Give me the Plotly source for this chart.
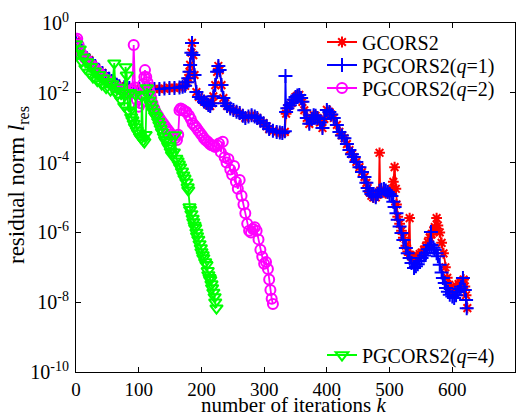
import plotly.graph_objects as go

# ---------------- data (iteration k, log10 of residual norm) ----------------
pg1_k = [0,2,5,9,13,17,21,26,32,37,42,47,53,57,61,65,69,77,85,93,101,109,117,125,133,141,149,157,165,170,174,177,179,181,182,184,185,187,189,192,196,200,204,208,211,214,217,219,222,225,227,229,232,235,238,241,246,251,256,261,266,270,275,280,285,289,294,299,304,308,314,320,325,329,333,334,335,337,341,344,347,350,353,356,359,361,364,368,372,376,379,382,385,389,393,396,400,404,407,411,416,420,424,428,432,436,440,443,447,452,456,460,463,465,468,471,474,478,481,484,487,491,494,497,500,503,506,508,511,513,516,519,522,526,529,532,535,539,542,545,548,551,555,558,561,564,566,567,570,572,575,577,580,583,585,588,590,593,596,600,603,606,609,612,614,617,620,622,623]
pg1_log = [-0.52,-0.62,-0.80,-0.90,-0.95,-1.00,-1.06,-1.17,-1.29,-1.36,-1.43,-1.52,-1.60,-1.66,-1.72,-1.77,-1.81,-1.84,-1.86,-1.88,-1.89,-1.89,-1.89,-1.89,-1.89,-1.88,-1.86,-1.86,-1.85,-1.83,-1.80,-1.70,-1.58,-1.40,-1.20,-0.85,-0.57,-0.92,-1.49,-1.98,-2.12,-2.18,-2.25,-2.29,-2.35,-2.38,-2.30,-2.10,-1.78,-1.40,-1.23,-1.35,-1.78,-2.15,-2.30,-2.38,-2.45,-2.49,-2.54,-2.58,-2.66,-2.72,-2.68,-2.64,-2.68,-2.72,-2.80,-2.87,-2.96,-3.04,-3.09,-3.12,-3.14,-3.15,-3.10,-1.52,-2.55,-2.44,-2.36,-2.29,-2.20,-2.12,-2.08,-2.06,-2.15,-2.26,-2.50,-2.72,-2.89,-2.75,-2.64,-2.66,-2.72,-2.85,-3.01,-2.75,-2.49,-2.55,-2.62,-2.72,-2.92,-3.12,-3.22,-3.30,-3.47,-3.64,-3.76,-3.84,-3.98,-4.13,-4.27,-4.41,-4.58,-4.73,-4.82,-4.90,-4.95,-4.99,-4.90,-4.81,-4.78,-4.76,-4.80,-4.84,-4.90,-4.96,-5.12,-5.27,-5.45,-5.64,-5.83,-6.02,-6.22,-6.45,-6.60,-6.73,-6.88,-7.02,-6.97,-6.91,-6.82,-6.73,-6.66,-6.59,-6.48,-6.36,-5.99,-6.36,-6.44,-6.50,-6.60,-6.68,-6.93,-7.15,-7.31,-7.45,-7.59,-7.70,-7.79,-7.84,-7.88,-7.80,-7.71,-7.62,-7.56,-7.31,-7.65,-7.94,-8.17]

gc_k = [0,2,5,9,13,17,21,26,32,37,42,47,53,57,61,65,69,77,85,93,101,109,117,125,133,141,149,157,165,170,174,177,179,181,182,184,185,187,189,192,196,200,204,208,211,214,217,219,222,225,227,229,232,235,238,241,246,251,256,261,266,270,275,280,285,289,294,299,304,308,314,320,325,329,333,335,337,341,344,347,350,353,356,359,361,364,368,372,376,379,382,385,389,393,396,400,404,407,411,416,420,424,428,432,436,440,443,447,452,456,460,463,465,468,471,474,478,481,483,484,485,487,491,494,497,500,503,506,508,510,511,513,516,519,522,526,529,532,533,535,539,542,545,548,551,555,558,561,564,567,570,572,575,577,580,583,586,589,592,595,598,601,604,607,610,613,616,618,620,622,624]
gc_log = [-0.52,-0.62,-0.80,-0.90,-0.95,-1.00,-1.06,-1.17,-1.29,-1.36,-1.43,-1.52,-1.60,-1.66,-1.72,-1.77,-1.81,-1.84,-1.86,-1.88,-1.89,-1.89,-1.89,-1.89,-1.89,-1.88,-1.86,-1.86,-1.85,-1.83,-1.80,-1.70,-1.58,-1.40,-1.20,-0.85,-0.57,-0.92,-1.49,-1.98,-2.12,-2.18,-2.25,-2.29,-2.35,-2.38,-2.30,-2.10,-1.78,-1.40,-1.23,-1.35,-1.78,-2.15,-2.30,-2.38,-2.45,-2.49,-2.54,-2.58,-2.66,-2.72,-2.68,-2.64,-2.68,-2.72,-2.80,-2.87,-2.96,-3.04,-3.09,-3.12,-3.14,-3.15,-3.12,-2.60,-2.44,-2.36,-2.29,-2.20,-2.12,-2.08,-2.06,-2.15,-2.26,-2.50,-2.72,-2.89,-2.75,-2.64,-2.66,-2.72,-2.85,-3.01,-2.75,-2.49,-2.55,-2.62,-2.72,-2.92,-3.12,-3.22,-3.30,-3.47,-3.64,-3.76,-3.84,-3.98,-4.13,-4.27,-4.41,-4.58,-4.73,-4.85,-4.95,-5.00,-5.00,-4.92,-4.85,-3.72,-4.80,-4.82,-4.85,-4.88,-4.85,-4.85,-4.75,-4.55,-4.13,-4.75,-5.20,-5.55,-5.75,-5.95,-6.15,-6.38,-6.55,-5.59,-6.65,-6.70,-6.75,-6.72,-6.68,-6.62,-6.58,-6.50,-6.40,-6.28,-6.15,-6.05,-5.95,-5.85,-5.59,-5.80,-6.00,-6.30,-6.60,-7.00,-7.30,-7.50,-7.62,-7.65,-7.60,-7.55,-7.48,-7.45,-7.40,-7.35,-7.55,-7.80,-8.17]

pg2_k = [0,2,4,7,10,14,18,22,26,30,34,38,42,46,50,54,58,62,66,70,74,78,82,85,88,90,92,94,97,100,103,105,107,109,110,112,114,116,118,120,122,125,128,131,134,137,140,143,146,149,152,155,158,161,163,165,167,170,173,176,180,183,186,189,192,195,198,201,204,207,210,213,216,219,222,225,228,231,234,237,240,243,246,249,252,255,258,261,264,267,270,273,276,279,282,285,288,291,294,297,300,303,306,308,310,312,314]
pg2_log = [-0.50,-0.45,-0.62,-0.82,-0.92,-1.00,-1.08,-1.15,-1.22,-1.30,-1.38,-1.45,-1.52,-1.60,-1.65,-1.70,-1.76,-1.80,-1.85,-1.90,-1.93,-1.97,-2.00,-2.02,-1.95,-1.90,-0.63,-1.85,-2.20,-2.40,-2.30,-2.05,-1.75,-1.55,-1.35,-1.55,-1.70,-1.85,-2.00,-2.15,-2.30,-2.45,-2.58,-2.66,-2.75,-2.83,-2.90,-2.98,-3.05,-3.12,-3.20,-3.26,-3.30,-3.35,-3.20,-2.50,-2.45,-2.48,-2.52,-2.55,-2.65,-2.75,-2.87,-2.94,-3.00,-3.08,-3.15,-3.22,-3.30,-3.36,-3.40,-3.46,-3.50,-3.52,-3.55,-3.50,-3.45,-3.70,-3.40,-3.85,-4.00,-3.90,-4.20,-4.35,-4.10,-4.55,-4.75,-4.50,-4.95,-5.20,-5.45,-5.75,-5.95,-6.00,-5.90,-5.85,-5.95,-6.20,-6.50,-6.70,-6.90,-6.85,-7.05,-7.35,-7.65,-7.90,-8.05]

pg4_k = [0,3,6,9,12,15,18,21,24,27,30,34,37,41,44,48,51,55,58,61,63,66,69,72,75,77,79,81,83,85,86,88,90,92,94,95,97,99,102,104,105,107,109,111,113,115,117,119,121,124,126,128,131,133,135,137,140,142,144,147,149,151,153,156,158,160,162,164,166,169,171,173,176,178,179,181,182,184,186,187,189,190,192,193,195,197,199,200,202,203,206,208,210,211,213,214,216,217,219,221,222,224]
pg4_log = [-0.60,-0.88,-0.75,-1.10,-0.98,-1.30,-1.12,-1.42,-1.25,-1.55,-1.38,-1.65,-1.48,-1.75,-1.58,-1.85,-1.68,-1.92,-1.75,-1.15,-1.95,-2.06,-1.85,-2.21,-2.00,-2.38,-1.26,-1.50,-2.50,-2.55,-2.00,-2.70,-2.78,-2.88,-2.98,-2.05,-3.08,-3.15,-3.25,-3.30,-2.10,-3.36,-3.41,-3.20,-1.86,-2.05,-2.21,-2.33,-2.44,-2.55,-2.65,-2.69,-2.82,-2.92,-3.02,-3.12,-3.25,-3.35,-3.41,-3.52,-3.58,-3.68,-3.78,-3.70,-3.21,-3.88,-3.96,-4.05,-4.13,-4.25,-4.36,-4.45,-4.56,-4.70,-4.79,-5.27,-5.35,-5.47,-5.60,-5.70,-5.80,-5.87,-6.00,-6.10,-6.20,-6.33,-6.45,-6.56,-6.65,-6.73,-6.85,-6.93,-7.10,-7.22,-7.30,-7.36,-7.48,-7.59,-7.72,-7.85,-8.00,-8.17]

series_names = ["GCORS2", "PGCORS2(<i>q</i>=1)", "PGCORS2(<i>q</i>=2)", "PGCORS2(<i>q</i>=4)"]

x_ticks = [0, 100, 200, 300, 400, 500, 600, 700]
y_tick_vals = [1e0, 1e-2, 1e-4, 1e-6, 1e-8, 1e-10]
y_tick_text = ["10<sup>0</sup>", "10<sup>-2</sup>", "10<sup>-4</sup>", "10<sup>-6</sup>", "10<sup>-8</sup>", "10<sup>-10</sup>"]
x_title = "number of iterations <i>k</i>"
y_title = "residual norm <i>l</i><sub>res</sub>"

# ---------------- figure ----------------
FONT = "Liberation Serif, Times New Roman, serif"
W, H = 529, 417
L, R, T, B = 76, 14, 23, 45
pw, ph = W - L - R, H - T - B

def px2paper(xp, yp):
    return (xp - L) / pw, (H - B - yp) / ph

fig = go.Figure()
specs = [
    (gc_k, gc_log, "#FF0000", "asterisk-open", 9, "legend"),
    (pg1_k, pg1_log, "#0000FF", "cross-thin-open", 10, "legend2"),
    (pg2_k, pg2_log, "#FF00FF", "circle-open", 10, "legend3"),
    (pg4_k, pg4_log, "#00FF00", "triangle-down-open", 11, "legend4"),
]
for (ks, lv, col, sym, sz, lg), name in zip(specs, series_names):
    fig.add_trace(go.Scatter(
        x=ks, y=[10 ** v for v in lv], name=name, mode="lines+markers",
        line=dict(color=col, width=1.8),
        marker=dict(symbol=sym, size=sz, color=col, line=dict(color=col, width=2)),
        legend=lg,
    ))

legend_pos = {"legend": (322, 42), "legend2": (322, 65), "legend3": (322, 88), "legend4": (322, 355)}
leg_layout = {}
for lg, (xp, yp) in legend_pos.items():
    xx, yy = px2paper(xp, yp)
    leg_layout[lg] = dict(x=xx, y=yy, xanchor="left", yanchor="middle",
                          bgcolor="rgba(0,0,0,0)", borderwidth=0, tracegroupgap=0,
                          font=dict(family=FONT, size=20, color="black"))

xt_x, xt_y = px2paper(294, 405)
yt_x, yt_y = px2paper(18, 185)

fig.update_layout(
    width=W, height=H,
    margin=dict(l=L, r=R, t=T, b=B, autoexpand=False),
    paper_bgcolor="white", plot_bgcolor="white",
    font=dict(family=FONT, color="black"),
    showlegend=True,
    annotations=[
        dict(text=x_title, xref="paper", yref="paper", x=xt_x, y=xt_y,
             xanchor="center", yanchor="middle", showarrow=False,
             font=dict(family=FONT, size=21, color="black")),
        dict(text=y_title, xref="paper", yref="paper", x=yt_x, y=yt_y,
             xanchor="center", yanchor="middle", showarrow=False, textangle=-90,
             font=dict(family=FONT, size=23, color="black")),
    ],
    **leg_layout,
)
fig.update_xaxes(
    range=[0, 700], tickvals=x_ticks, ticks="inside", ticklen=5, tickcolor="black",
    showline=True, linecolor="black", linewidth=1, mirror="ticks", showgrid=False, zeroline=False,
    tickfont=dict(family=FONT, size=19), ticklabelstandoff=0, automargin=False,
)
fig.update_yaxes(
    type="log", range=[-10, 0], tickvals=y_tick_vals, ticktext=y_tick_text,
    ticks="inside", ticklen=5, tickcolor="black",
    showline=True, linecolor="black", linewidth=1, mirror="ticks", showgrid=False, zeroline=False,
    tickfont=dict(family=FONT, size=20), ticklabelstandoff=2, automargin=False,
)

fig.write_html("out.html")
